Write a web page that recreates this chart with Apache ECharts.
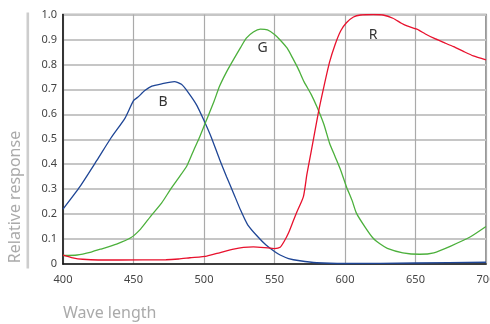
<!DOCTYPE html>
<html>
<head>
<meta charset="utf-8">
<script src="https://cdn.jsdelivr.net/npm/echarts@6/dist/echarts.min.js"></script>
<style>html,body{margin:0;padding:0;background:#fff}#c{width:490px;height:324px}</style>
</head>
<body>
<div id="c"></div>
<script>
// Data (wavelength nm, relative response)
var blueData = [[400,0.22],[412,0.31],[424,0.415],[434,0.505],[444,0.585],[450,0.655],[453,0.668],[458,0.695],[463,0.713],[470,0.722],[479,0.731],[484,0.72],[489,0.686],[495,0.635],[500,0.575],[505,0.51],[511,0.42],[516,0.35],[521,0.283],[526,0.215],[531,0.157],[538,0.11],[544,0.076],[550,0.05],[554,0.036],[560,0.022],[568,0.013],[580,0.005],[600,0.002],[650,0.004],[700,0.007]];
var greenData = [[400,0.034],[410,0.036],[420,0.048],[427,0.06],[438,0.08],[448,0.105],[455,0.14],[462,0.19],[470,0.245],[476,0.297],[482,0.345],[488,0.395],[493,0.46],[497,0.51],[502,0.58],[507,0.65],[511,0.712],[516,0.77],[521,0.82],[526,0.868],[530,0.905],[535,0.93],[540,0.941],[545,0.938],[550,0.92],[554,0.898],[559,0.865],[563,0.824],[567,0.78],[571,0.73],[576,0.68],[580,0.631],[585,0.56],[589,0.485],[593,0.43],[597,0.375],[601,0.31],[605,0.255],[608,0.205],[614,0.15],[620,0.103],[625,0.08],[630,0.063],[641,0.045],[653,0.039],[663,0.045],[675,0.072],[689,0.109],[700,0.15]];
var redData = [[400,0.036],[407,0.025],[414,0.019],[425,0.016],[440,0.016],[473,0.017],[482,0.02],[490,0.025],[502,0.032],[511,0.045],[521,0.06],[528,0.067],[535,0.069],[543,0.066],[550,0.062],[554,0.067],[557,0.092],[560,0.125],[563,0.168],[566,0.21],[570.5,0.27],[573,0.36],[576,0.45],[581,0.604],[585,0.71],[589,0.808],[593,0.88],[597,0.935],[601,0.967],[606,0.99],[611,0.998],[620,1.0],[627,0.998],[634,0.985],[640,0.965],[644,0.954],[651,0.941],[657,0.922],[663,0.905],[670,0.888],[677,0.871],[684,0.852],[691,0.834],[700,0.818]];
var curveNames = ['B','G','R'];
var labelPos = [[471,0.649],[541.5,0.867],[620,0.918]];
var xTicks = {min:400, max:700, interval:50};
var yTicks = {min:0, max:1, interval:0.1};
var xAxisTitle = 'Wave length';
var yAxisTitle = 'Relative response';

var colors = ['#1f4696','#4cb03c','#e8112d'];
var datasets = [blueData, greenData, redData];
var font = "'Noto Sans', 'Open Sans', sans-serif";

var chart = echarts.init(document.getElementById('c'), null, {renderer:'canvas'});
var series = datasets.map(function(d,i){
  return {
    type:'line', name:curveNames[i], data:d, showSymbol:false, smooth:0.2,
    lineStyle:{color:colors[i], width:1.3}, itemStyle:{color:colors[i]},
    z: 3,
    markPoint:{
      symbol:'circle', symbolSize:0, silent:true,
      label:{show:true, position:'inside', formatter:curveNames[i], color:'#333', fontSize:14, fontFamily:font},
      data:[{coord:labelPos[i]}]
    }
  };
});

chart.setOption({
  animation:false,
  backgroundColor:'#fff',
  grid:{left:63, right:4, top:14.5, bottom:60, outerBoundsMode:'none', containLabel:false,
    show:true, borderColor:'#777', borderWidth:1.5, backgroundColor:'transparent', z:0},
  xAxis:{type:'value', min:xTicks.min, max:xTicks.max, interval:xTicks.interval,
    axisLine:{show:true, onZero:false, lineStyle:{color:'#111', width:1.5}},
    axisTick:{show:false},
    axisLabel:{color:'#444', fontSize:11, fontFamily:font, margin:10},
    splitLine:{show:true, lineStyle:{color:'#aaa', width:1.2}}},
  yAxis:{type:'value', min:yTicks.min, max:yTicks.max, interval:yTicks.interval,
    axisLine:{show:true, lineStyle:{color:'#111', width:1.5}},
    axisTick:{show:false},
    axisLabel:{color:'#444', fontSize:11, fontFamily:font, margin:6,
      formatter:function(v){ return v===0 ? '0' : v.toFixed(1); }},
    splitLine:{show:true, lineStyle:{color:'#c6c6c6', width:2}}},
  graphic:[
    {type:'rect', shape:{x:26.5, y:12.5, width:2.6, height:256}, style:{fill:'#cdcdcd'}, silent:true},
    {type:'text', x:15, y:197, rotation:Math.PI/2,
      style:{text:yAxisTitle, fill:'#aaa', font:'16px '+font, align:'center', verticalAlign:'middle'}},
    {type:'text', x:63, y:313,
      style:{text:xAxisTitle, fill:'#aaa', font:'16px '+font, align:'left', verticalAlign:'middle'}}
  ],
  series:series
});
</script>
</body>
</html>
